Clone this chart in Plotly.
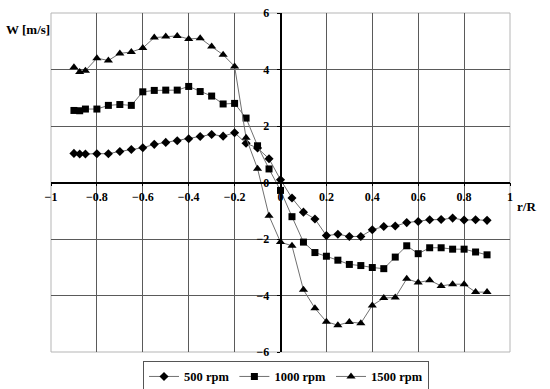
import plotly.graph_objects as go

x_rR = [-0.9, -0.875, -0.85, -0.8, -0.75, -0.7, -0.65, -0.6, -0.55, -0.5, -0.45, -0.4,
        -0.35, -0.3, -0.25, -0.2, -0.15, -0.1, -0.05, 0.0, 0.05, 0.1, 0.15, 0.2, 0.25,
        0.3, 0.35, 0.4, 0.45, 0.5, 0.55, 0.6, 0.65, 0.7, 0.75, 0.8, 0.85, 0.9]

w_500 = [1.03, 1.01, 1.01, 1.02, 1.02, 1.10, 1.17, 1.23, 1.35, 1.42, 1.48, 1.55,
         1.63, 1.70, 1.64, 1.76, 1.39, 1.22, 0.84, 0.10, -0.55, -1.05, -1.29, -1.88, -1.83,
         -1.91, -1.91, -1.67, -1.56, -1.54, -1.42, -1.38, -1.32, -1.31, -1.26, -1.33, -1.32, -1.34]

w_1000 = [2.55, 2.54, 2.60, 2.60, 2.73, 2.76, 2.73, 3.21, 3.26, 3.27, 3.27, 3.40,
          3.22, 3.06, 2.78, 2.80, 2.28, 1.30, 0.48, -0.28, -1.21, -2.11, -2.48, -2.61, -2.75,
          -2.90, -2.94, -3.01, -3.05, -2.64, -2.24, -2.52, -2.31, -2.31, -2.36, -2.36, -2.46, -2.56]

w_1500 = [4.08, 3.91, 3.96, 4.40, 4.32, 4.57, 4.62, 4.76, 5.13, 5.17, 5.19, 5.08,
          5.11, 4.81, 4.52, 4.11, 1.58, 0.49, -1.18, -2.11, -2.24, -3.80, -4.45, -4.93, -5.05,
          -4.94, -4.98, -4.35, -4.09, -4.07, -3.41, -3.54, -3.46, -3.66, -3.60, -3.60, -3.88, -3.88]

series = [("500 rpm", w_500, "diamond", 7),
          ("1000 rpm", w_1000, "square", 7),
          ("1500 rpm", w_1500, "triangle-up", 8)]

FONT = "Liberation Serif"

fig = go.Figure()
for name, vals, sym, size in series:
    fig.add_trace(go.Scatter(
        x=x_rR, y=vals, name=name, mode="lines+markers",
        line=dict(color="#707070", width=1),
        marker=dict(symbol=sym, size=size, color="black"),
    ))

fig.update_layout(
    width=550, height=389,
    margin=dict(l=51, r=40, t=13, b=37, autoexpand=False),
    paper_bgcolor="white", plot_bgcolor="white",
    font=dict(family=FONT, size=12, color="black", weight="bold"),
    showlegend=True,
    legend=dict(orientation="h", x=0.512, xanchor="center", y=-0.026, yanchor="top",
                bordercolor="#555555", borderwidth=1,
                font=dict(family=FONT, size=12.5, color="black", weight="bold"),
                itemwidth=30, tracegroupgap=0),
    xaxis=dict(range=[-1, 1], dtick=0.2, tick0=-1, anchor="free", position=0.5,
               showgrid=True, gridcolor="#5a5a5a", gridwidth=1,
               zeroline=False, showline=True, linecolor="black", linewidth=1.5,
               ticks="outside", ticklen=3, tickcolor="black", automargin=False,
               ticklabeloverflow="allow",
               tickfont=dict(family=FONT, size=12, color="black", weight="bold")),
    yaxis=dict(range=[-6, 6], dtick=2, anchor="free", position=0.5,
               showgrid=True, gridcolor="#5a5a5a", gridwidth=1,
               zeroline=False, showline=True, linecolor="black", linewidth=1.5,
               ticks="outside", ticklen=3, tickcolor="black", automargin=False,
               ticklabelstandoff=5, ticklabeloverflow="allow",
               tickfont=dict(family=FONT, size=12, color="black", weight="bold")),
    annotations=[
        dict(text="W [m/s]", xref="paper", yref="paper", x=0.002, y=0.95,
             xanchor="right", yanchor="middle", showarrow=False,
             font=dict(family=FONT, size=13, color="black", weight="bold")),
        dict(text="r/R", xref="paper", yref="paper", x=1.01, y=0.428,
             xanchor="left", yanchor="middle", showarrow=False,
             font=dict(family=FONT, size=13, color="black", weight="bold")),
    ],
    shapes=[dict(type="rect", xref="paper", yref="paper", x0=0, y0=0, x1=1, y1=1,
                 line=dict(color="#b5b5b5", width=1), layer="below")],
)

fig.write_html("out.html", config={"displayModeBar": False},
               post_script="document.body.style.margin='0';")
